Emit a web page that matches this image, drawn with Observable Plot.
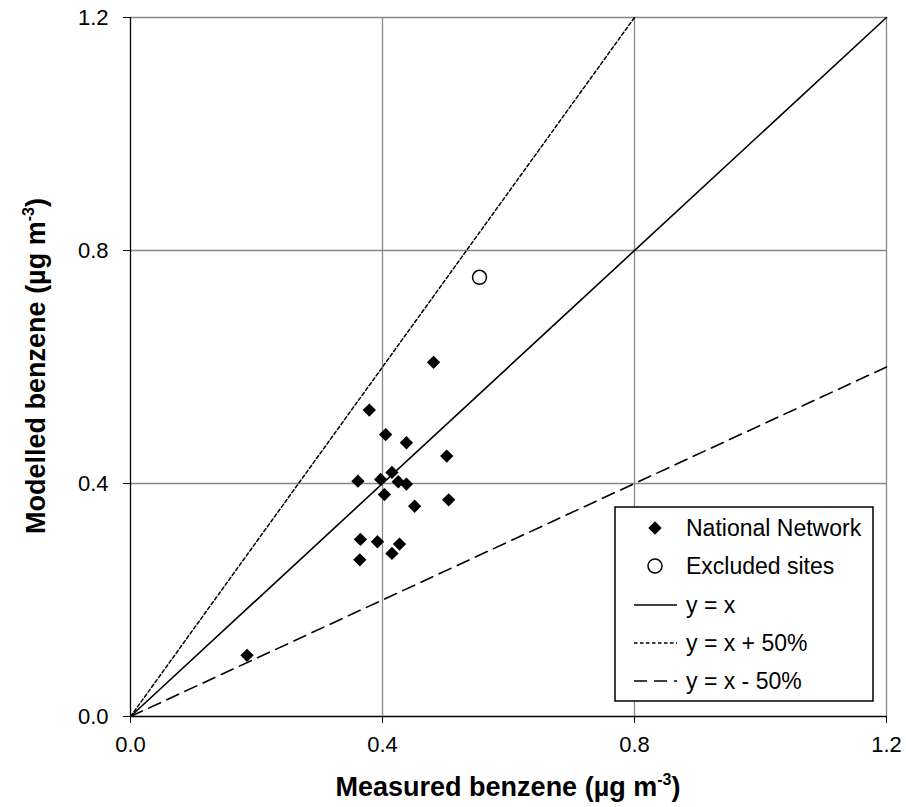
<!DOCTYPE html>
<html><head><meta charset="utf-8">
<script src="https://cdn.jsdelivr.net/npm/d3@7"></script>
<script src="https://cdn.jsdelivr.net/npm/@observablehq/plot@0.6"></script>
<style>
body{margin:0;background:#fff;}
svg{font-family:"Liberation Sans",Arial,sans-serif;}
</style>
</head><body><div id="chart"></div>
<script>
// ---- data ----
const xTicks = [0, 0.4, 0.8, 1.2];
const yTicks = [0, 0.4, 0.8, 1.2];
const nationalX = [0.481,0.379,0.405,0.438,0.502,0.361,0.397,0.415,0.425,0.438,0.403,0.451,0.505,0.365,0.392,0.427,0.415,0.364,0.185];
const nationalY = [0.608,0.526,0.484,0.470,0.447,0.404,0.407,0.419,0.403,0.399,0.381,0.361,0.372,0.304,0.300,0.296,0.280,0.269,0.105];
const excludedX = [0.554];
const excludedY = [0.754];
const lineOneX = [0, 1.2],  lineOneY = [0, 1.2];   // y = x
const linePlusX = [0, 0.8], linePlusY = [0, 1.2];  // y = x + 50%
const lineMinusX = [0, 1.2], lineMinusY = [0, 0.6]; // y = x - 50%
const legendLabels = ["National Network", "Excluded sites", "y = x", "y = x + 50%", "y = x - 50%"];
const xTitle = "Measured benzene (µg m";
const yTitle = "Modelled benzene (µg m";

const national = nationalX.map((x, i) => ({x, y: nationalY[i]}));
const excluded = excludedX.map((x, i) => ({x, y: excludedY[i]}));
const mk = (xs, ys) => xs.map((x, i) => ({x, y: ys[i]}));

const fmt = d3.format(".1f");
const chart = Plot.plot({
  width: 906, height: 807,
  marginLeft: 130, marginRight: 20, marginTop: 17, marginBottom: 91,
  style: {fontFamily: "Liberation Sans, Arial, sans-serif", fontSize: "22px", color: "#000", background: "#fff", overflow: "visible"},
  x: {domain: [0, 1.2], ticks: xTicks, tickFormat: fmt, tickSize: 7, tickPadding: 13, label: null},
  y: {domain: [0, 1.2], ticks: yTicks, tickFormat: fmt, tickSize: 7, tickPadding: 15, label: null},
  marks: [
    Plot.gridX(xTicks.slice(1), {stroke: "#878787", strokeOpacity: 1, strokeWidth: 1.3}),
    Plot.gridY(yTicks.slice(1), {stroke: "#878787", strokeOpacity: 1, strokeWidth: 1.3}),
    Plot.line(mk(lineOneX, lineOneY), {x: "x", y: "y", stroke: "#000", strokeWidth: 1.6}),
    Plot.line(mk(linePlusX, linePlusY), {x: "x", y: "y", stroke: "#000", strokeWidth: 1.5, strokeDasharray: "3.5,2.5"}),
    Plot.line(mk(lineMinusX, lineMinusY), {x: "x", y: "y", stroke: "#000", strokeWidth: 1.6, strokeDasharray: "13,7"}),
    Plot.ruleX([0], {stroke: "#000", strokeWidth: 1.3}),
    Plot.ruleY([0], {stroke: "#000", strokeWidth: 1.3}),
    Plot.dot(national, {x: "x", y: "y", symbol: "diamond2", r: 6, fill: "#000", stroke: "none"}),
    Plot.dot(excluded, {x: "x", y: "y", symbol: "circle", r: 7, fill: "#fff", stroke: "#000", strokeWidth: 1.5})
  ]
});
document.getElementById("chart").appendChild(chart);

const svg = d3.select(chart);
// axis titles
const xt = svg.append("text").attr("x", 508).attr("y", 796).attr("text-anchor", "middle")
  .attr("font-size", 27).attr("font-weight", "bold").attr("fill", "#000");
xt.append("tspan").text(xTitle);
xt.append("tspan").attr("font-size", 16).attr("dy", -11).text("-3");
xt.append("tspan").attr("dy", 11).text(")");

const yt = svg.append("text").attr("transform", "translate(45,366) rotate(-90)").attr("text-anchor", "middle")
  .attr("font-size", 27).attr("font-weight", "bold").attr("fill", "#000");
yt.append("tspan").text(yTitle);
yt.append("tspan").attr("font-size", 16).attr("dy", -11).text("-3");
yt.append("tspan").attr("dy", 11).text(")");

// legend
const lg = svg.append("g");
lg.append("rect").attr("x", 615).attr("y", 507).attr("width", 258).attr("height", 194)
  .attr("fill", "#fff").attr("stroke", "#000").attr("stroke-width", 1.5);
const rows = [528, 566, 605, 643, 681];
const sx = 655;
lg.append("path").attr("d", d3.symbol(d3.symbolDiamond2, Math.PI * 36)()).attr("transform", `translate(${sx},${rows[0]})`).attr("fill", "#000");
lg.append("circle").attr("cx", sx).attr("cy", rows[1]).attr("r", 7).attr("fill", "#fff").attr("stroke", "#000").attr("stroke-width", 1.5);
const dashes = [null, "3.5,2.5", "13,7"];
[2, 3, 4].forEach((k, j) => {
  const l = lg.append("line").attr("x1", 634).attr("x2", 677).attr("y1", rows[k]).attr("y2", rows[k])
    .attr("stroke", "#000").attr("stroke-width", 1.6);
  if (dashes[j]) l.attr("stroke-dasharray", dashes[j]);
});
legendLabels.forEach((t, i) => {
  lg.append("text").attr("x", 686).attr("y", rows[i]).attr("dy", "0.35em")
    .attr("text-anchor", "start").attr("font-size", 23).attr("fill", "#000").text(t);
});
</script>
</body></html>
